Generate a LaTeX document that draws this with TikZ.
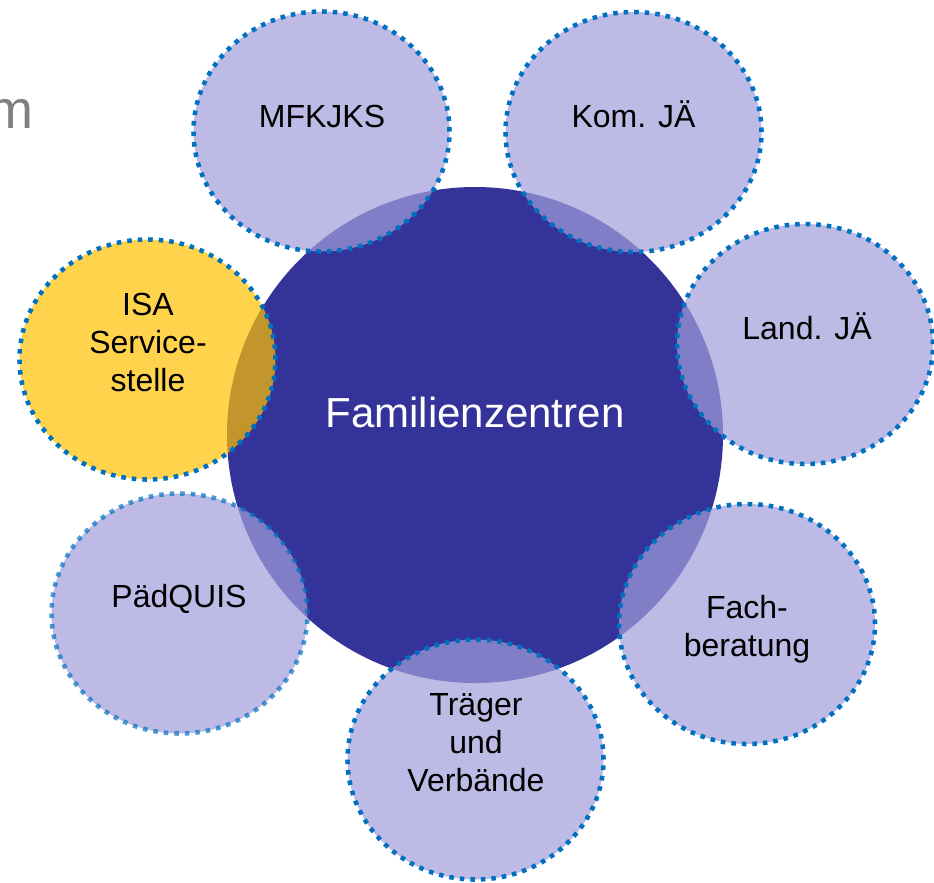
\documentclass[tikz,border=0pt]{standalone}
\usepackage{fontspec}
\setmainfont{Liberation Sans}
\usetikzlibrary{shapes.geometric}
\definecolor{fzblue}{RGB}{51,51,153}
\definecolor{lilac}{RGB}{161,158,219}
\definecolor{isagold}{RGB}{255,192,0}
\definecolor{dotblue}{RGB}{0,112,192}

\begin{document}
\begin{tikzpicture}[x=0.75pt,y=-0.75pt]
	\tikzstyle{Bubble} = [ellipse,minimum width=192pt,minimum height=180pt,inner sep=0pt,fill=lilac,fill opacity=0.7,draw=dotblue,line width=3.4pt,dash pattern=on 3.4pt off 4.5pt]
	\tikzstyle{Label} = [font=\fontsize{24}{28.5}\selectfont,align=center,inner sep=0pt]
	\useasboundingbox (0,0) rectangle (934,882);
	\node[anchor=base east,inner sep=0pt,text=gray,font=\fontsize{40.5}{48}\selectfont] (title) at (33.5,128) {m};
	% centre
	\node[circle,minimum size=372pt,inner sep=0pt,fill=fzblue] (fz) at (475,435) {};
	% partners
	\node[Bubble] (mfk) at (321.5,131.5) {};
	\node[Bubble] (komja) at (633.5,132) {};
	\node[Bubble] (landja) at (805,344) {};
	\node[Bubble] (fach) at (747,624) {};
	\node[Bubble] (traeger) at (475.5,759.5) {};
	\node[Bubble,draw opacity=0.7] (pq) at (179.5,613.5) {};
	\node[Bubble,fill=isagold] (isa) at (147.5,359.5) {};
	\node[anchor=base,inner sep=0pt,text=white,font=\fontsize{31.5}{38}\selectfont] (fztext) at (475,427) {Familienzentren};
	\node[Label,anchor=base] (mfktext) at (322,127) {MFKJKS};
	\node[Label,anchor=base] (komjatext) at (633.5,127) {Kom. JÄ};
	\node[Label,anchor=base] (landjatext) at (807,339) {Land. JÄ};
	\node[Label,anchor=north] (fachtext) at (747,595) {Fach-\\beratung};
	\node[Label,anchor=north] (traegertext) at (476,693) {Träger\\und\\Verbände};
	\node[Label,anchor=base] (pqtext) at (179,607) {PädQUIS};
	\node[Label,anchor=north] (isatext) at (148,293) {ISA\\Service-\\stelle};
\end{tikzpicture}
\end{document}
